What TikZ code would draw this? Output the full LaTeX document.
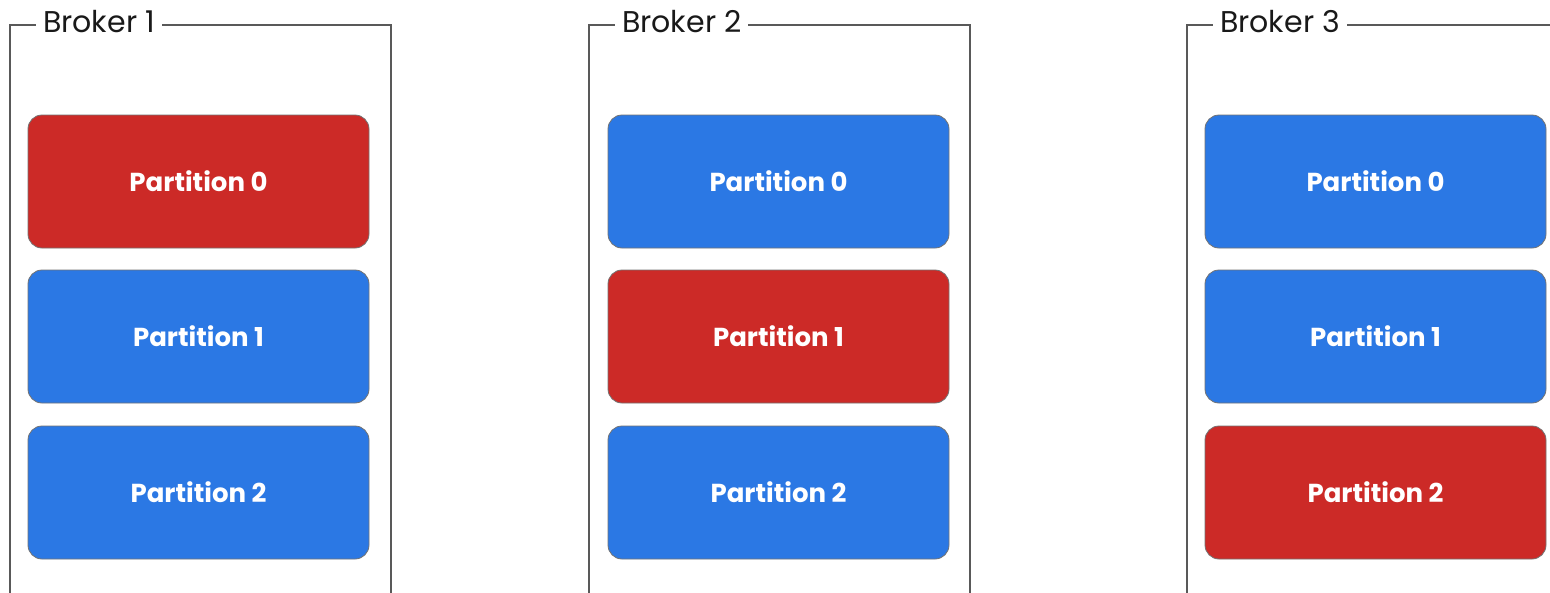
\documentclass[tikz,border=0pt]{standalone}
\usepackage{fontspec}
\setmainfont{Poppins}
\begin{document}
\begin{tikzpicture}[x=1pt,y=-1pt,
  frameline/.style={draw=black!65,line width=1.3pt},
  framelabel/.style={fill=white,inner xsep=7pt,inner ysep=2pt,anchor=west,text=black!90,font=\fontsize{30}{34}\selectfont},
  part/.style={draw=black!55,line width=0.8pt,rounded corners=14pt,minimum width=341pt,minimum height=133pt,
    text=white,font=\bfseries\fontsize{26}{30}\selectfont},
  leader/.style={part,fill=kred},
  follower/.style={part,fill=kblue}]
\definecolor{kred}{HTML}{CC2A27}
\definecolor{kblue}{HTML}{2B78E4}
\useasboundingbox (0,0) rectangle (1550,592);
\clip (0,0) rectangle (1550,592);
\fill[white] (0,0) rectangle (1550,592);

% broker frames (open at the bottom edge of the page)
\foreach \l/\r in {10/391, 589/970, 1187/1570}{
  \draw[frameline] (\l,620) -- (\l,25) -- (\r,25) -- (\r,620);
}
\node[framelabel] (b1) at (36,22) {Broker 1};
\node[framelabel] (b2) at (615,22) {Broker 2};
\node[framelabel] (b3) at (1213,22) {Broker 3};

% broker 1
\node[leader]   (b1p0) at (198.5,181.5) {Partition 0};
\node[follower] (b1p1) at (198.5,336.5) {Partition 1};
\node[follower] (b1p2) at (198.5,492.5) {Partition 2};
% broker 2
\node[follower] (b2p0) at (778.5,181.5) {Partition 0};
\node[leader]   (b2p1) at (778.5,336.5) {Partition 1};
\node[follower] (b2p2) at (778.5,492.5) {Partition 2};
% broker 3
\node[follower] (b3p0) at (1375.5,181.5) {Partition 0};
\node[follower] (b3p1) at (1375.5,336.5) {Partition 1};
\node[leader]   (b3p2) at (1375.5,492.5) {Partition 2};
\end{tikzpicture}
\end{document}
